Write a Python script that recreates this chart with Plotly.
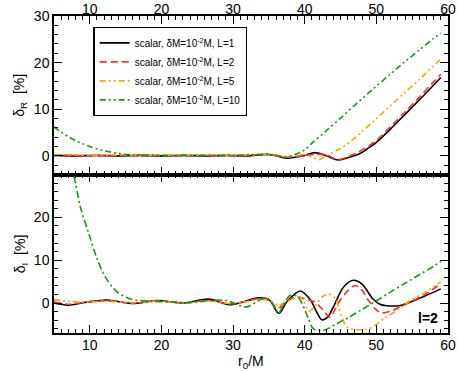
import plotly.graph_objects as go
from plotly.subplots import make_subplots

# ---- delta_R (top panel) ----
r_black_R = [5, 8, 11, 14, 17, 20, 23, 26, 29, 32, 35, 37.5, 40, 41.4, 43, 44.6, 46, 47.7, 49, 50, 52, 54, 56, 58, 59]
v_black_R = [0.1, 0, 0.1, 0, 0.1, 0, 0.1, 0, 0.1, 0, 0.3, -0.5, 0.1, 0.7, 0, -0.9, -0.4, 0.5, 1.8, 2.9, 5.8, 8.9, 12.0, 15.2, 16.8]

r_red_R = [5, 8, 11, 14, 17, 20, 23, 26, 29, 32, 35, 37.5, 40, 41.5, 43, 44.6, 46, 47.5, 49, 50, 52, 54, 56, 58, 59]
v_red_R = [0.2, 0.1, 0, 0.1, 0, 0.1, 0, 0.1, 0, 0.1, 0.3, -0.3, 0.1, 0.3, 0.2, -0.8, -0.2, 0.8, 2.2, 3.3, 6.3, 9.4, 12.6, 15.9, 17.5]

r_orange_R = [5, 8, 11, 14, 17, 20, 23, 26, 29, 32, 35, 37.5, 40, 41, 42, 43, 44, 45, 46, 48, 50, 52, 54, 56, 58, 59]
v_orange_R = [0.3, 0.2, 0.1, 0.2, 0.1, 0.2, 0.1, 0.2, 0.1, 0.2, 0.3, -0.2, 0.3, -0.3, -0.8, 0, 0.8, 1.6, 2.6, 5.2, 8.0, 10.8, 13.6, 16.4, 19.3, 20.8]

r_green_R = [5, 6, 7, 8, 9, 10, 11, 12, 13, 14, 15, 17, 20, 25, 30, 35, 37.5, 39, 40, 41.2, 43, 45, 47, 49.8, 52, 54, 56, 58, 59]
v_green_R = [6.2, 5.1, 4.1, 3.3, 2.6, 2.0, 1.5, 1.1, 0.8, 0.5, 0.3, 0.2, 0.1, 0.1, 0.1, 0.3, -0.2, 0.5, 1.3, 3.0, 5.4, 8.1, 10.9, 14.7, 17.6, 20.2, 22.7, 25.2, 26.3]

# ---- delta_I (bottom panel) ----
r_black_I = [5, 7, 9.5, 12.4, 16, 19.4, 23.1, 26.6, 29.5, 31.5, 33.5, 35, 36.4, 37.5, 39.4, 40.75, 42.4, 43.2, 44, 45.4, 46.8, 48, 49.5, 50.5, 51.9, 53.5, 55, 57, 59]
v_black_I = [0, -0.5, 0.2, 0.7, -0.1, 0.6, 0, 0.9, -0.4, 0.3, 1.2, 0.8, -2.4, 0.3, 2.8, 0.8, -3.9, -3.3, -0.9, 3.7, 5.3, 4.4, 1.0, -0.3, -0.7, -0.5, 0.4, 1.8, 3.3]

r_red_I = [5, 7, 9.5, 12.4, 16, 19.4, 23.1, 26.6, 29.5, 31.5, 33.5, 35, 36.2, 37.5, 38.8, 40, 41.4, 42.5, 43.5, 44.9, 47, 48, 48.9, 50, 50.7, 52, 53.3, 54.7, 56.5, 59]
v_red_I = [0.3, -0.3, 0.2, 0.5, 0, 0.5, 0, 0.6, -0.2, 0.3, 1.0, 0.8, -1.3, 0.4, 1.4, 1.0, 0.2, -1.5, -3.3, 0.6, 4.1, 3.0, 0.6, -1.6, -2.3, -1.9, -0.9, 0.2, 1.7, 4.5]

r_orange_I = [5, 7, 9.5, 12.4, 16, 19.4, 23.1, 26.6, 29.5, 31.5, 33.5, 35, 36.3, 37.5, 39.4, 40.6, 41.5, 42.5, 43.4, 44.3, 45, 45.9, 47, 48.5, 49.5, 51, 53, 54.7, 56.5, 58, 59]
v_orange_I = [0.8, 0.4, 0.2, 0.4, 0.1, 0.4, 0, 0.5, -0.1, 0.2, 0.8, 0.6, -0.5, 0.3, 1.3, -1.9, -0.5, 1.5, 2.1, 1.0, -2.5, -5.6, -6.2, -6.2, -5.6, -3.7, -1.6, 0.6, 2.2, 3.8, 5.0]

r_green_I = [5, 6, 7, 7.73, 8.67, 9.83, 11, 12.15, 13.8, 15.6, 18.4, 21, 24, 27, 29.1, 30.5, 31.9, 34.2, 35.3, 36.3, 37, 38, 39, 40, 40.5, 41.2, 42.1, 42.8, 44.5, 46.3, 48, 50, 52, 54, 56, 58, 59]
v_green_I = [50, 41, 33, 29.9, 22.5, 16.3, 10.4, 6.1, 2.6, 1.0, 0.4, 0.3, 0.1, 0.6, 0.6, -0.3, -0.9, 1.0, 0.3, -2.5, -0.5, 1.8, 1.5, -1.5, -3.7, -6.0, -6.4, -6.3, -4.8, -3.2, -1.5, 0.5, 2.6, 4.6, 6.6, 8.6, 9.7]

labels = ["L=1", "L=2", "L=5", "L=10"]
colors = ["black", "#ff2a2a", "#ffa500", "#139a13"]
dashes = ["solid", "7px,4px", "6px,3px,2px,3px,2px,3px", "6px,3px,2px,3px,2px,3px"]
dashes_I = ["solid", "7px,4px", "6px,3px,2px,3px,2px,3px", "7px,3px,2px,3px"]

top = [(r_black_R, v_black_R), (r_red_R, v_red_R), (r_orange_R, v_orange_R), (r_green_R, v_green_R)]
bottom = [(r_black_I, v_black_I), (r_red_I, v_red_I), (r_orange_I, v_orange_I), (r_green_I, v_green_I)]

FONT = "Liberation Sans, Arial"

fig = make_subplots(rows=2, cols=1, shared_xaxes=False, vertical_spacing=0)

for i in range(4):
    fig.add_trace(go.Scatter(
        x=top[i][0], y=top[i][1], mode="lines",
        line=dict(color=colors[i], width=1.6, dash=dashes[i], shape="spline", smoothing=0.9),
        name="scalar, δM=10<sup>-2</sup>M, " + labels[i]), row=1, col=1)
for i in range(4):
    fig.add_trace(go.Scatter(
        x=bottom[i][0], y=bottom[i][1], mode="lines", showlegend=False,
        line=dict(color=colors[i], width=1.6, dash=dashes_I[i], shape="spline", smoothing=0.9)),
        row=2, col=1)

ax_style = dict(showline=True, linecolor="black", linewidth=1.5, mirror="allticks",
                ticks="inside", ticklen=8, tickwidth=1.3, tickcolor="black",
                showgrid=False, zeroline=False, automargin=False,
                tickfont=dict(family=FONT, size=14, color="black"))

fig.update_xaxes(ax_style)
fig.update_yaxes(ax_style)

fig.update_xaxes(range=[5, 60], tickvals=[10, 20, 30, 40, 50, 60],
                 minor=dict(ticks="inside", ticklen=4, dtick=1, tick0=0, tickcolor="black"))
fig.update_xaxes(side="top", ticklabelstandoff=-5, row=1, col=1)
fig.update_xaxes(ticklabelstandoff=-2, row=2, col=1)

fig.update_yaxes(range=[-4, 30], tickvals=[0, 10, 20, 30],
                 minor=dict(ticks="inside", ticklen=4, dtick=2, tick0=0, tickcolor="black"),
                 row=1, col=1)
fig.update_yaxes(range=[-7, 30], tickvals=[0, 10, 20],
                 minor=dict(ticks="inside", ticklen=4, dtick=2, tick0=0, tickcolor="black"),
                 row=2, col=1)

# axis titles as annotations for exact placement
fig.add_annotation(x=-0.085, y=0.75, xref="paper", yref="paper", text="δ<sub>R</sub>  [%]",
                   textangle=-90, showarrow=False, xanchor="center", yanchor="middle",
                   font=dict(family=FONT, size=14, color="black"))
fig.add_annotation(x=-0.085, y=0.25, xref="paper", yref="paper", text="δ<sub>I</sub>  [%]",
                   textangle=-90, showarrow=False, xanchor="center", yanchor="middle",
                   font=dict(family=FONT, size=14, color="black"))
fig.add_annotation(x=0.5, y=-0.09, xref="paper", yref="paper", text="r<sub>0</sub>/M",
                   showarrow=False, xanchor="center", yanchor="middle",
                   font=dict(family=FONT, size=14, color="black"))

fig.add_annotation(x=57.2, y=-3.4, xref="x2", yref="y2", text="<b>l=2</b>", showarrow=False,
                   font=dict(family=FONT, size=14, color="black"))

fig.update_layout(
    width=458, height=371,
    margin=dict(l=54, r=10, t=16, b=38),
    plot_bgcolor="white", paper_bgcolor="white",
    legend=dict(x=0.1, y=0.965, xanchor="left", yanchor="top",
                bordercolor="black", borderwidth=1.3, bgcolor="white",
                font=dict(family=FONT, size=10, color="black"),
                tracegroupgap=0, itemwidth=30),
)

fig.write_html("out.html", config={"displayModeBar": False},
               post_script="document.body.style.margin='0px';")
